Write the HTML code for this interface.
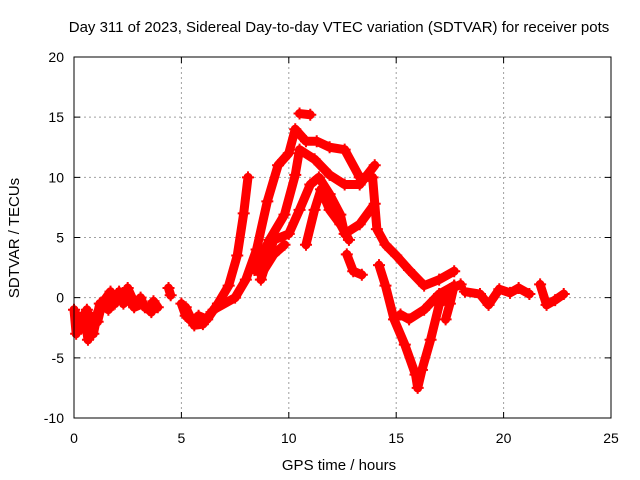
<!DOCTYPE html>
<html><head><meta charset="utf-8"><style>
body{margin:0;background:#fff;}
svg{display:block;font-family:"Liberation Sans",sans-serif;}
</style></head><body>
<svg id="chart" width="640" height="480" viewBox="0 0 640 480">
<rect width="640" height="480" fill="#fff"/>
<text x="339" y="32" font-size="15" text-anchor="middle">Day 311 of 2023, Sidereal Day-to-day VTEC variation (SDTVAR) for receiver pots</text>
<g id="grid"></g>
<g id="series"></g>
<rect x="74" y="57" width="537" height="361" fill="none" stroke="#000" stroke-width="1"/>
<g id="ticks"></g>
<text x="339" y="470" font-size="15" text-anchor="middle">GPS time / hours</text>
<text transform="translate(19,238) rotate(-90)" font-size="15" text-anchor="middle">SDTVAR / TECUs</text>
</svg>
<script>
const xTicks=[0,5,10,15,20,25];
const yTicks=[-10,-5,0,5,10,15,20];
const traceA_x=[0,0.1,0.2,0.35,0.5,0.65,0.8,0.95,1.1,1.3,1.5,1.7,1.9,2.1,2.3,2.5,2.7,2.9,3.1,3.3,3.5,3.7,3.9];
const traceA_y=[-1,-3,-1.5,-2.5,-1.5,-3.5,-2.5,-1.5,-2,-0.5,0,0.5,-0.5,0.5,-0.5,0.8,0,-0.5,0,-0.8,-1,-0.3,-0.8];
const traceA3_x=[0.3,0.6,0.9,1.2,1.6,2.0,2.4,2.8,3.2,3.6];
const traceA3_y=[-2,-1,-3,-0.5,-1,0.3,0.2,-0.8,-0.5,-1.2];
const traceA2_x=[4.4,4.5];
const traceA2_y=[0.8,0.2];
const traceB_x=[5,5.2,5.5,5.8,6.2,6.7,7.2,7.6,7.9,8.1];
const traceB_y=[-0.5,-1.5,-2,-1.5,-1.8,-0.5,1,3.5,7,10];
const traceB2_x=[5.2,5.6,6.0,6.4];
const traceB2_y=[-0.8,-2.3,-2.2,-1.2];
const traceC_x=[6.5,7.5,8,8.5,9,9.5,10,10.3,10.8,11.3,11.9,12.6,13.3,13.9,14.1,14.5,15,15.6,16.3,17,17.7];
const traceC_y=[-1,0,1.5,4,8,11,12,14,13,13,12.5,12.3,10,10,5.7,4.4,3.5,2.3,1,1.5,2.2];
const traceD_x=[8.4,9.1,9.8,10.3,10.5,11.2,11.9,12.6,13.3,14];
const traceD_y=[2.3,4.8,6.9,10.2,12.3,11.5,10.2,9.4,9.4,11];
const traceE_x=[8.7,9.3,10,10.5,11,11.4,11.9,12.4,12.6,13.3,14];
const traceE_y=[1.5,4.8,5.3,7.3,9.4,10,8.6,6.9,5.3,6.1,7.8];
const traceF_x=[8.7,9.3,9.8];
const traceF_y=[1.9,3.6,4.4];
const traceG_x=[10.8,11.2,11.5,11.9,12.4,12.8];
const traceG_y=[4.4,7.3,9,7.3,6.1,4.8];
const traceH_x=[12.7,13.0,13.4];
const traceH_y=[3.6,2.2,1.9];
const traceI_x=[10.5,11];
const traceI_y=[15.3,15.2];
const traceJ_x=[14.2,14.5,14.9,15.4,15.9,16,16.2,16.6,17,17.5,18];
const traceJ_y=[2.7,1,-1.8,-3.9,-6.4,-7.5,-6,-3.5,-0.6,0.7,1.1];
const traceK_x=[15.2,15.6,16.3,17,17.7];
const traceK_y=[-1.4,-1.8,-1,0.3,1];
const traceK2_x=[17.3,17.5,17.7];
const traceK2_y=[-1.8,-0.5,1];
const traceL_x=[18.2,18.9,19.3,19.8,20.3,20.7,21.2];
const traceL_y=[0.5,0.3,-0.6,0.7,0.4,0.8,0.3];
const traceM_x=[21.7,22,22.4,22.8];
const traceM_y=[1.1,-0.6,-0.2,0.3];
const traces=[[traceA_x,traceA_y],[traceA3_x,traceA3_y],[traceA2_x,traceA2_y],[traceB_x,traceB_y],[traceB2_x,traceB2_y],[traceC_x,traceC_y],[traceD_x,traceD_y],[traceE_x,traceE_y],[traceF_x,traceF_y],[traceG_x,traceG_y],[traceH_x,traceH_y],[traceI_x,traceI_y],[traceJ_x,traceJ_y],[traceK_x,traceK_y],[traceK2_x,traceK2_y],[traceL_x,traceL_y],[traceM_x,traceM_y]];
const NS='http://www.w3.org/2000/svg';
const X0=74,X1=611,Y0=418,Y1=57;
function sx(v){return X0+(v-0)/(25-0)*(X1-X0);}
function sy(v){return Y0-(v+10)/(30)*(Y0-Y1);}
const grid=document.getElementById('grid'),ticks=document.getElementById('ticks'),ser=document.getElementById('series');
xTicks.forEach(t=>{
  const x=sx(t);
  if(t>0&&t<25){const l=document.createElementNS(NS,'line');
  
  
  l.setAttribute('x1',x);l.setAttribute('x2',x);l.setAttribute('y1',Y1);l.setAttribute('y2',Y0);
  l.setAttribute('stroke','#a0a0a0');l.setAttribute('stroke-dasharray','2,3');grid.appendChild(l);}
  const tk=document.createElementNS(NS,'path');
  
  
  tk.setAttribute('d',`M${x},${Y0}v-6M${x},${Y1}v6`);tk.setAttribute('stroke','#000');ticks.appendChild(tk);
  const tx=document.createElementNS(NS,'text');
  
  
  tx.setAttribute('x',x);tx.setAttribute('y',443);tx.setAttribute('font-size','14');tx.setAttribute('text-anchor','middle');tx.textContent=t;ticks.appendChild(tx);
});
yTicks.forEach(t=>{
  const y=sy(t);
  if(t>-10&&t<20){const l=document.createElementNS(NS,'line');
  
  
  l.setAttribute('x1',X0);l.setAttribute('x2',X1);l.setAttribute('y1',y);l.setAttribute('y2',y);
  l.setAttribute('stroke','#a0a0a0');l.setAttribute('stroke-dasharray','2,3');grid.appendChild(l);}
  const tk=document.createElementNS(NS,'path');
  
  
  tk.setAttribute('d',`M${X0},${y}h6M${X1},${y}h-6`);tk.setAttribute('stroke','#000');ticks.appendChild(tk);
  const tx=document.createElementNS(NS,'text');
  
  
  tx.setAttribute('x',64);tx.setAttribute('y',y+5);tx.setAttribute('font-size','14');tx.setAttribute('text-anchor','end');tx.textContent=t;ticks.appendChild(tx);
});
traces.forEach(([xs,ys])=>{
  const pts=xs.map((v,i)=>sx(v)+','+sy(ys[i])).join(' ');
  const pl=document.createElementNS(NS,'polyline');
  
  
  pl.setAttribute('points',pts);pl.setAttribute('fill','none');pl.setAttribute('stroke','#ff0000');
  pl.setAttribute('stroke-width','9');pl.setAttribute('stroke-linejoin','round');pl.setAttribute('stroke-linecap','round');
  ser.appendChild(pl);
  xs.forEach((v,i)=>{
    const p=document.createElementNS(NS,'path');
    
    
    const x=sx(v),y=sy(ys[i]);
    p.setAttribute('d',`M${x-6},${y}h12M${x},${y-6}v12`);p.setAttribute('stroke','#ff0000');p.setAttribute('stroke-width','2');
    ser.appendChild(p);
  });
});
</script>
</body></html>
